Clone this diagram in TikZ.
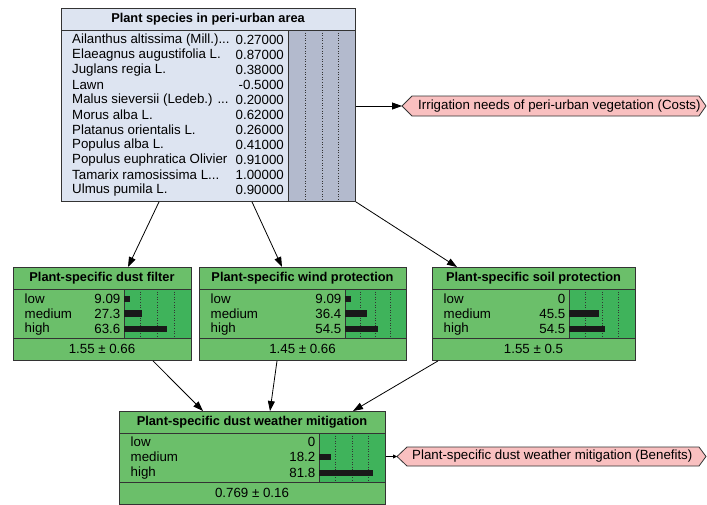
\documentclass[tikz,border=0pt]{standalone}
\usepackage{fontspec}
\setmainfont{Liberation Sans}
\usetikzlibrary{arrows.meta,calc}
\definecolor{topfill}{HTML}{DDE4F1}
\definecolor{topbar}{HTML}{B3BACD}
\definecolor{gfill}{HTML}{6BBF6A}
\definecolor{gbar}{HTML}{3FB35B}
\definecolor{pinkfill}{HTML}{F9C0C0}
\definecolor{bordc}{HTML}{333333}
\newcommand{\threedots}{.\kern0pt.\kern0pt.}
\tikzset{
  rowtxt/.style={inner sep=0pt, font=\fontsize{13.3}{15}\selectfont},
  ttltxt/.style={inner sep=0pt, font=\fontsize{12.8}{15}\selectfont\bfseries},
  gbox/.style={draw=bordc, fill=gfill, line width=0.9pt, inner sep=0pt},
  tbox/.style={draw=bordc, fill=topfill, line width=0.9pt, inner sep=0pt},
  inner/.style={draw=bordc, line width=0.9pt},
  dotline/.style={draw=black!80, dotted, line width=0.6pt},
  edge/.style={draw=black, line width=0.8pt, -{Triangle[length=10pt,width=7pt]}},
  lbl/.style={draw=bordc, fill=pinkfill, line width=0.8pt},
}
\newcommand{\bnbox}[7]{%
  \pgfmathsetmacro{\bxA}{#2}\pgfmathsetmacro{\bxB}{#3}%
  \pgfmathsetmacro{\byO}{#4}\pgfmathsetmacro{\bbx}{#5}%
  \node[gbox, minimum width={#3-#2}, minimum height=93, anchor=north west] (#1) at (#2,#4) {};
  \fill[gbar] (#5,#4+22) rectangle (#3,#4+71);
  \foreach \f in {0.25,0.5,0.75}
    \draw[dotline] ({#5+\f*(#3-#5)},#4+22) -- ({#5+\f*(#3-#5)},#4+71);
  \draw[inner] (#2,#4+22) -- (#3,#4+22);
  \draw[inner] (#2,#4+71) -- (#3,#4+71);
  \draw[inner] (#5,#4+22) -- (#5,#4+71);
  \node[ttltxt] at ({(#2+#3)/2},#4+11.5) {#6};
  \node[rowtxt] at ({(#2+#3)/2},#4+82) {#7};
}
\newcommand{\bnrow}[4]{%
  \node[rowtxt, anchor=west] at (\bxA+11.5,\byO+#1) {#2};
  \node[rowtxt, anchor=east] at (\bbx-3.5,\byO+#1) {#3};
  \pgfmathtruncatemacro{\tmpon}{#4>0}%
  \ifnum\tmpon>0
    \fill[black!90] (\bbx,\byO+#1-3.3) rectangle ({\bbx+#4/100*(\bxB-\bbx)},\byO+#1+3.3);
  \fi
}
\begin{document}
\begin{tikzpicture}[x=1pt,y=-1pt]
\useasboundingbox (0,0) rectangle (707,504);

% top node
\node[tbox, minimum width=294, minimum height=193, anchor=north west] (top) at (61,8) {};
\fill[topbar] (288,30) rectangle (355,201);
\foreach \xx in {305,322,338} \draw[dotline] (\xx,30) -- (\xx,201);
\draw[inner] (61,30) -- (355,30);
\draw[inner] (288,30) -- (288,201);
\node[ttltxt] at (208,19) {Plant species in peri-urban area};
\foreach \lab/\val [count=\i from 0] in {
  Ailanthus altissima (Mill.)\threedots/0.27000,
  Elaeagnus augustifolia L./0.87000,
  Juglans regia L./0.38000,
  Lawn/-0.5000,
  Malus sieversii (Ledeb.) \threedots/0.20000,
  Morus alba L./0.62000,
  Platanus orientalis L./0.26000,
  Populus alba L./0.41000,
  Populus euphratica Olivier/0.91000,
  Tamarix ramosissima L\threedots/1.00000,
  Ulmus pumila L./0.90000} {
  \node[rowtxt, anchor=west] at (72,40+15*\i) {\lab};
  \node[rowtxt, anchor=east] at (284,40+15*\i) {\val};
}

% middle nodes
\bnbox{dust}{13}{191}{267}{124}{Plant-specific dust filter}{1.55 ± 0.66}
\bnrow{32}{low}{9.09}{9.09}
\bnrow{46.5}{medium}{27.3}{27.3}
\bnrow{62}{high}{63.6}{63.6}

\bnbox{wind}{199}{406}{267}{345}{Plant-specific wind protection}{1.45 ± 0.66}
\bnrow{32}{low}{9.09}{9.09}
\bnrow{46.5}{medium}{36.4}{36.4}
\bnrow{62}{high}{54.5}{54.5}

\bnbox{soil}{432}{635}{267}{569}{Plant-specific soil protection}{1.55 ± 0.5}
\bnrow{32}{low}{0}{0}
\bnrow{46.5}{medium}{45.5}{45.5}
\bnrow{62}{high}{54.5}{54.5}

% bottom node
\bnbox{mit}{119}{385}{411}{319}{Plant-specific dust weather mitigation}{0.769 ± 0.16}
\bnrow{31}{low}{0}{0}
\bnrow{46}{medium}{18.2}{18.2}
\bnrow{62}{high}{81.8}{81.8}

% pink labels
\path[lbl] (402,106) -- (412,96) -- (699,96) -- (706,106) -- (699,116) -- (412,116) -- cycle;
\coordinate (costtip) at (402,106);
\node[rowtxt, anchor=west] (cost) at (418,106) {Irrigation needs of peri-urban vegetation (Costs)};
\path[lbl] (397,456.5) -- (407,447) -- (699,447) -- (706,456.5) -- (699,466) -- (407,466) -- cycle;
\coordinate (bentip) at (397,456.5);
\node[rowtxt, anchor=west] (ben) at (412,456.5) {Plant-specific dust weather mitigation (Benefits)};

% connectors
\draw[edge] ([xshift=98pt]top.south west) -- ([xshift=115pt]dust.north west);
\draw[edge] ([xshift=191pt]top.south west) -- ([xshift=83pt]wind.north west);
\draw[edge] (top.south east) -- ([xshift=25pt]soil.north west);
\draw[edge] ([xshift=140pt]dust.south west) -- ([xshift=84pt]mit.north west);
\draw[edge] ([xshift=78pt]wind.south west) -- ([xshift=151pt]mit.north west);
\draw[edge] ([xshift=6pt]soil.south west) -- ([xshift=234pt]mit.north west);
\draw[edge] ([yshift=-98pt]top.north east) -- (costtip);
\draw[line width=0.8pt, -{Triangle[length=4pt,width=4pt]}] ([yshift=-45.5pt]mit.north east) -- (bentip);
\end{tikzpicture}
\end{document}
